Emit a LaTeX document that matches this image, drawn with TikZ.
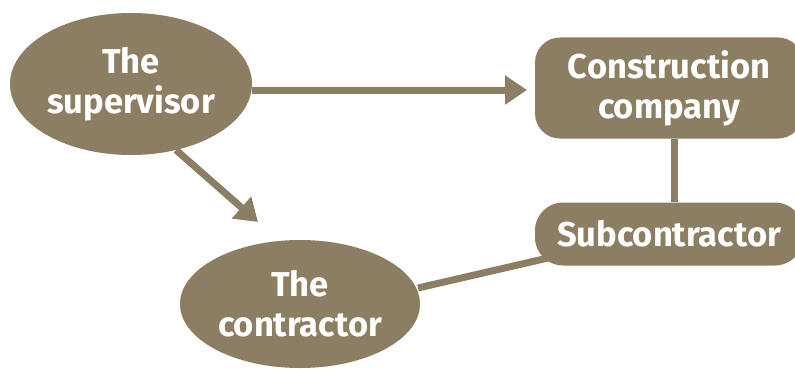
\documentclass[tikz,border=0pt]{standalone}
\usepackage{fontspec}
\setmainfont{Fira Sans}
\usetikzlibrary{arrows.meta,shapes.geometric}
\definecolor{khaki}{HTML}{8C7E62}
\begin{document}
\begin{tikzpicture}[x=1pt,y=-1pt,
  label font/.style={font=\fontsize{34.5}{40}\selectfont\bfseries},
  blob/.style={ellipse,fill=khaki,text=white,label font,align=center,inner sep=0pt},
  card/.style={rounded corners=25pt,fill=khaki,text=white,label font,align=center,inner sep=0pt},
  link/.style={draw=khaki,line width=7pt},
  flow/.style={link,-{Triangle[length=22pt,width=28pt]}}]
\useasboundingbox (0,0) rectangle (795,369);
\node[blob,minimum width=242pt,minimum height=142pt] (sup) at (131,84) {The\\supervisor};
\node[card,minimum width=268pt,minimum height=101pt] (cc) at (669,88) {Construction\\company};
\node[card,minimum width=268pt,minimum height=63pt,rounded corners=28pt] (sub) at (669,234) {Subcontractor};
\node[blob,minimum width=240pt,minimum height=128pt] (con) at (300,304) {The\\contractor};
\draw[flow] (sup.east |- 0,90) -- (527,90);
\draw[flow] (176,150) -- (258,222);
\draw[link] (cc.south -| 674,0) -- (sub.north -| 674,0);
\draw[link] (418,288) -- (548,258);
\end{tikzpicture}
\end{document}
